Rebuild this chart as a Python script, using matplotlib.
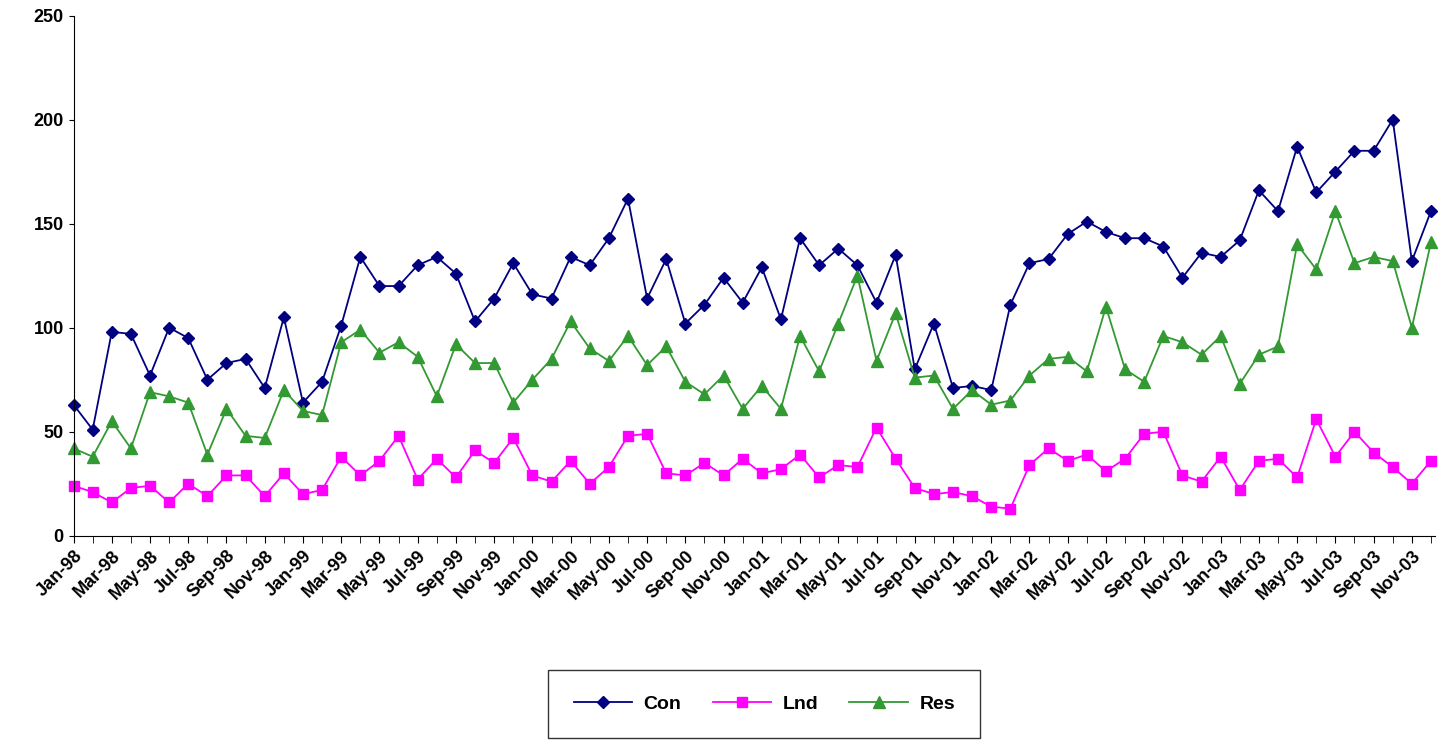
import matplotlib
matplotlib.use("Agg")
import matplotlib.pyplot as plt

months = ["Jan","Feb","Mar","Apr","May","Jun","Jul","Aug","Sep","Oct","Nov","Dec"]
labels = [f"{m}-{y:02d}" for y in [98,99,0,1,2,3] for m in months]
con = [63,51,98,97,77,100,95,75,83,85,71,105,
       64,74,101,134,120,120,130,134,126,103,114,131,
       116,114,134,130,143,162,114,133,102,111,124,112,
       129,104,143,130,138,130,112,135,80,102,71,72,
       70,111,131,133,145,151,146,143,143,139,124,136,
       134,142,166,156,187,165,175,185,185,200,132,156]
lnd = [24,21,16,23,24,16,25,19,29,29,19,30,
       20,22,38,29,36,48,27,37,28,41,35,47,
       29,26,36,25,33,48,49,30,29,35,29,37,
       30,32,39,28,34,33,52,37,23,20,21,19,
       14,13,34,42,36,39,31,37,49,50,29,26,
       38,22,36,37,28,56,38,50,40,33,25,36]
res = [42,38,55,42,69,67,64,39,61,48,47,70,
       60,58,93,99,88,93,86,67,92,83,83,64,
       75,85,103,90,84,96,82,91,74,68,77,61,
       72,61,96,79,102,125,84,107,76,77,61,70,
       63,65,77,85,86,79,110,80,74,96,93,87,
       96,73,87,91,140,128,156,131,134,132,100,141]

plt.rcParams['font.family'] = ['Liberation Sans', 'DejaVu Sans']
plt.rcParams['font.weight'] = 'bold'
fig = plt.figure(figsize=(14.42, 7.40), dpi=100)
ax = fig.add_axes([0.051, 0.276, 0.944, 0.703])
x = list(range(len(labels)))
ax.plot(x, con, color='#000080', marker='D', ms=6, lw=1.3, label='Con', clip_on=False)
ax.plot(x, lnd, color='#FF00FF', marker='s', ms=7, lw=1.3, label='Lnd', clip_on=False)
ax.plot(x, res, color='#339933', marker='^', ms=8, lw=1.3, label='Res', clip_on=False)
ax.set_xlim(0, 71.2)
ax.set_ylim(0, 250)
ax.set_yticks(range(0, 251, 50))
ax.set_xticks(x[::2])
ax.set_xticklabels(labels[::2], rotation=45, ha='right', rotation_mode='anchor')
ax.set_xticks(x, minor=True)
ax.tick_params(axis='both', labelsize=13, direction='out')
ax.tick_params(axis='x', which='both', length=5)
for s in ['top', 'right']:
    ax.spines[s].set_visible(False)
for lab in ax.get_xticklabels() + ax.get_yticklabels():
    lab.set_fontweight('bold')
leg = fig.legend(loc='upper center', bbox_to_anchor=(0.53, 0.108), ncol=3,
                 frameon=True, fancybox=False, edgecolor='black', handlelength=3.0,
                 borderpad=1.3, columnspacing=1.6, handletextpad=0.6,
                 prop={'weight': 'bold', 'size': 14})
fig.savefig('out.png', dpi=100)
